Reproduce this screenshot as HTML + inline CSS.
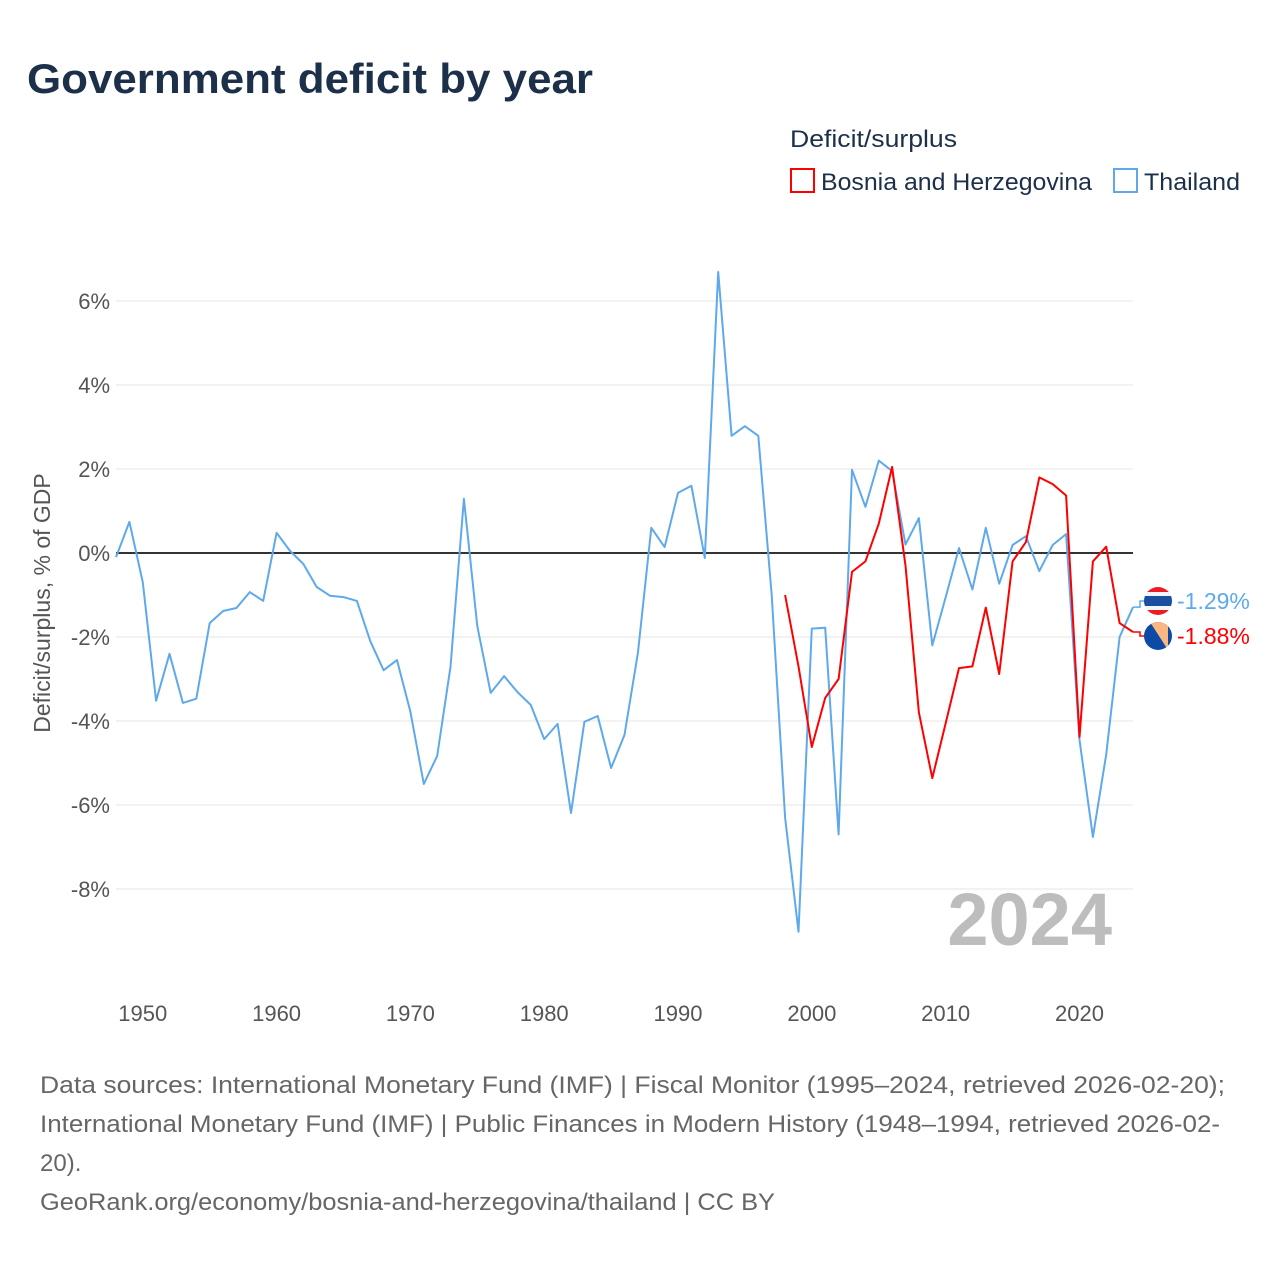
<!DOCTYPE html>
<html><head><meta charset="utf-8"><style>
html,body{margin:0;padding:0;background:#fff;}
svg{display:block;font-family:"Liberation Sans",sans-serif;}
</style></head><body>
<svg id="chart" width="1280" height="1280" viewBox="0 0 1280 1280" xmlns="http://www.w3.org/2000/svg">
<text x="27" y="93" font-size="42" font-weight="bold" fill="#1d3049" textLength="566" lengthAdjust="spacingAndGlyphs">Government deficit by year</text>
<g>
<text x="790" y="147" font-size="24" fill="#1d3049" textLength="167" lengthAdjust="spacingAndGlyphs">Deficit/surplus</text>
<g>
<rect x="791" y="169" width="23" height="23" fill="none" stroke="#ff0000" stroke-width="2"/>
<text x="821" y="190" font-size="24" fill="#1d3049" textLength="271" lengthAdjust="spacingAndGlyphs">Bosnia and Herzegovina</text>
</g>
<g>
<rect x="1114" y="169" width="23" height="23" fill="none" stroke="#5ea9ec" stroke-width="2"/>
<text x="1144" y="190" font-size="24" fill="#1d3049" textLength="96" lengthAdjust="spacingAndGlyphs">Thailand</text>
</g>
</g>
<text transform="translate(50,603) rotate(-90)" text-anchor="middle" font-size="23" fill="#555">Deficit/surplus, % of GDP</text>
<g id="grid"></g>
<g id="xticks"></g>
<text x="1112" y="945" text-anchor="end" font-size="74" font-weight="bold" fill="#bdbdbd">2024</text>
<g id="series"></g>
<g id="endlabels"></g>
<g font-size="24" fill="#666">
<text x="40" y="1093" textLength="1185" lengthAdjust="spacingAndGlyphs">Data sources: International Monetary Fund (IMF) | Fiscal Monitor (1995–2024, retrieved 2026-02-20);</text>
<text x="40" y="1132" textLength="1180" lengthAdjust="spacingAndGlyphs">International Monetary Fund (IMF) | Public Finances in Modern History (1948–1994, retrieved 2026-02-</text>
<text x="40" y="1171">20).</text>
<text x="40" y="1210" textLength="735" lengthAdjust="spacingAndGlyphs">GeoRank.org/economy/bosnia-and-herzegovina/thailand | CC BY</text>
</g>
</svg>
<script>
const yTicks = [6, 4, 2, 0, -2, -4, -6, -8];
const xTicks = [1950, 1960, 1970, 1980, 1990, 2000, 2010, 2020];
const thYears0 = 1948;
const thailand = [-0.1,0.74,-0.7,-3.52,-2.4,-3.57,-3.47,-1.67,-1.38,-1.31,-0.93,-1.14,0.48,0.05,-0.26,-0.81,-1.02,-1.05,-1.14,-2.1,-2.79,-2.55,-3.78,-5.5,-4.83,-2.71,1.29,-1.74,-3.33,-2.93,-3.31,-3.62,-4.43,-4.07,-6.19,-4.02,-3.88,-5.12,-4.33,-2.38,0.6,0.14,1.43,1.6,-0.12,6.69,2.79,3.02,2.79,-1.0,-6.3,-9.02,-1.8,-1.78,-6.7,1.98,1.1,2.2,1.95,0.2,0.83,-2.2,-1.05,0.12,-0.87,0.6,-0.73,0.19,0.4,-0.43,0.19,0.45,-4.45,-6.76,-4.8,-2.0,-1.29];
const bhYears0 = 1998;
const bosnia = [-1.0,-2.7,-4.62,-3.45,-3.0,-0.45,-0.2,0.7,2.05,-0.3,-3.8,-5.36,-4.05,-2.74,-2.7,-1.3,-2.88,-0.2,0.26,1.8,1.64,1.37,-4.38,-0.2,0.15,-1.67,-1.88];

const NS = "http://www.w3.org/2000/svg";
const xS = y => 116 + (y - 1948) * (1133 - 116) / 76;
const yS = v => 553 - v * 42;
function mk(tag, attrs, parent){const e=document.createElementNS(NS,tag);for(const k in attrs)e.setAttribute(k,attrs[k]);parent.appendChild(e);return e;}

const grid = document.getElementById('grid');
yTicks.forEach(v=>{
  const l = mk('line',{x1:116,x2:1133,y1:yS(v),y2:yS(v),stroke:v===0?'#333':'#e6e6e6','stroke-width':v===0?2:1},grid);
  
  
  const t = mk('text',{x:110,y:yS(v)+8,'text-anchor':'end','font-size':22,fill:'#555'},grid);
  t.textContent = v + '%';
  
  
});
const xt = document.getElementById('xticks');
xTicks.forEach(y=>{
  const t = mk('text',{x:xS(y),y:1021,'text-anchor':'middle','font-size':22,fill:'#555'},xt);
  t.textContent = y;
  
  
});
const ser = document.getElementById('series');
function line(data, y0, color, name){
  const pts = data.map((v,i)=>xS(y0+i).toFixed(1)+','+yS(v).toFixed(1)).join(' ');
  const p = mk('polyline',{points:pts,fill:'none',stroke:color,'stroke-width':2,'stroke-linejoin':'round'},ser);
  
  
}
line(thailand, thYears0, '#5ea9ec', 'thailand-line');
line(bosnia, bhYears0, '#ff0000', 'bosnia-line');

const el = document.getElementById('endlabels');
const thLast = thailand[thailand.length-1], bhLast = bosnia[bosnia.length-1];
const thY = 601, bhY = 636;
const c1 = mk('polyline',{points:`1133,${yS(thLast)} 1140,${yS(thLast)} 1140,${thY} 1146,${thY}`,fill:'none',stroke:'#5ea9ec','stroke-width':1.5},el);


const c2 = mk('polyline',{points:`1133,${yS(bhLast)} 1140,${yS(bhLast)} 1140,${bhY} 1146,${bhY}`,fill:'none',stroke:'#ff0000','stroke-width':1.5},el);


// Thailand flag
const defs = mk('defs',{},el);
const cp1 = mk('clipPath',{id:'cth'},defs); mk('circle',{cx:1158,cy:thY,r:14},cp1);
const cp2 = mk('clipPath',{id:'cbh'},defs); mk('circle',{cx:1158,cy:bhY,r:14},cp2);
const f1 = mk('g',{'clip-path':'url(#cth)'},el);


mk('rect',{x:1144,y:thY-14,width:28,height:28,fill:'#f4f5f8'},f1);
mk('rect',{x:1144,y:thY-14,width:28,height:5,fill:'#ed1c24'},f1);
mk('rect',{x:1144,y:thY+9,width:28,height:5,fill:'#ed1c24'},f1);
mk('rect',{x:1144,y:thY-5,width:28,height:10,fill:'#1a4fa0'},f1);
const f2 = mk('g',{'clip-path':'url(#cbh)'},el);


mk('rect',{x:1144,y:bhY-14,width:28,height:28,fill:'#0d4aa6'},f2);
mk('polygon',{points:`1150,${bhY-14} 1168,${bhY-14} 1168,${bhY+14}`,fill:'#fbb77f'},f2);
const t1 = mk('text',{x:1177,y:thY+8,'font-size':23,fill:'#5ea9ec'},el);
t1.textContent = thLast.toFixed(2)+'%';


const t2 = mk('text',{x:1177,y:bhY+8,'font-size':23,fill:'#ff0000'},el);
t2.textContent = bhLast.toFixed(2)+'%';


</script>
</body></html>
